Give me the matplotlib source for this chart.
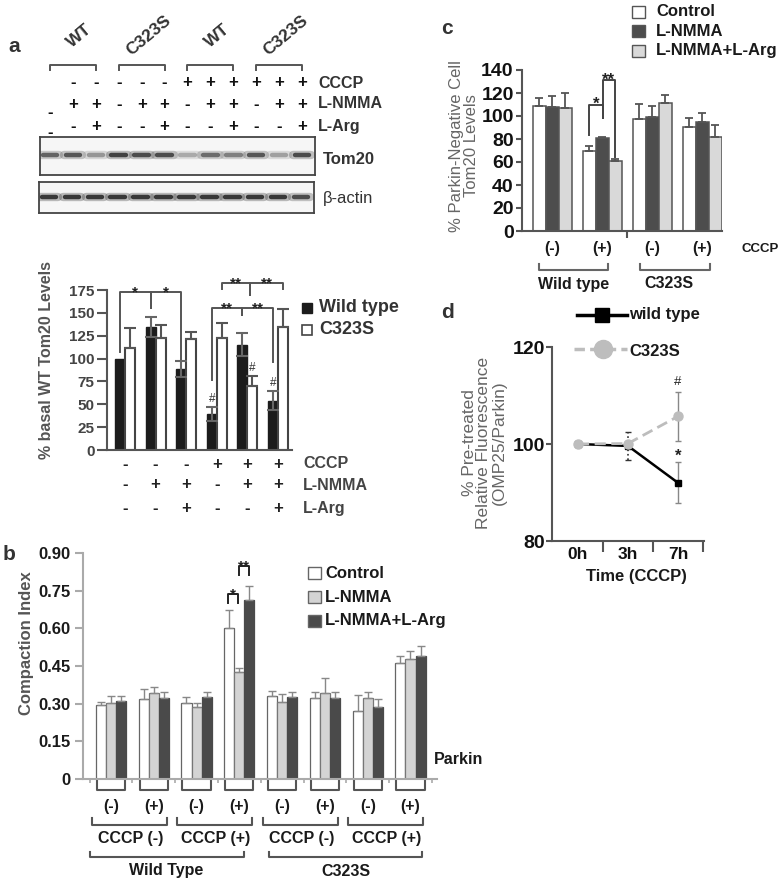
import matplotlib.pyplot as plt
from matplotlib.patches import Rectangle
from matplotlib.transforms import blended_transform_factory as blend

plt.rcParams['font.family'] = ['Liberation Sans', 'DejaVu Sans']
plt.rcParams['font.weight'] = 'bold'

W, H = 780, 884

# ---------------- data ----------------
# a: western blot (12 lanes)
blot_groups = ['WT', 'C323S', 'WT', 'C323S']
blot_cccp = ['', '-', '-', '-', '-', '-', '+', '+', '+', '+', '+', '+']
blot_nmma = ['-', '+', '+', '-', '+', '+', '-', '+', '+', '-', '+', '+']
blot_arg = ['-', '-', '+', '-', '-', '+', '-', '-', '+', '-', '-', '+']
tom20_band = [0.75, 0.8, 0.5, 0.9, 0.85, 0.85, 0.4, 0.7, 0.6, 0.8, 0.45, 0.85]
actin_band = [0.95, 0.95, 0.95, 0.95, 0.95, 0.95, 0.95, 0.95, 0.95, 0.95, 0.95, 0.85]

# a: quantification
a_wt = [100, 135, 88.6, 39.5, 115, 54]
a_wt_err = [0, 11, 9, 7.5, 12.5, 10]
a_mut = [112, 123, 121, 122, 70, 134]
a_mut_err = [21, 14, 8, 16.5, 11, 20]
a_cccp = ['-', '-', '-', '+', '+', '+']
a_nmma = ['-', '+', '+', '-', '+', '+']
a_arg = ['-', '-', '+', '-', '-', '+']

# b: compaction index
b_parkin = ['(-)', '(+)', '(-)', '(+)', '(-)', '(+)', '(-)', '(+)']
b_cccp = ['CCCP (-)', 'CCCP (+)', 'CCCP (-)', 'CCCP (+)']
b_geno = ['Wild Type', 'C323S']
b_ctrl = [0.295, 0.317, 0.304, 0.601, 0.331, 0.321, 0.271, 0.460]
b_ctrl_err = [0.013, 0.040, 0.024, 0.072, 0.019, 0.024, 0.063, 0.030]
b_nmma = [0.301, 0.341, 0.288, 0.426, 0.308, 0.344, 0.321, 0.476]
b_nmma_err = [0.031, 0.024, 0.016, 0.016, 0.029, 0.059, 0.024, 0.032]
b_arg = [0.312, 0.324, 0.328, 0.713, 0.325, 0.321, 0.285, 0.490]
b_arg_err = [0.020, 0.024, 0.020, 0.056, 0.020, 0.027, 0.032, 0.038]

# c: parkin-negative cells
c_cccp = ['(-)', '(+)', '(-)', '(+)']
c_ctrl = [109, 70, 97, 90.5]
c_ctrl_err = [6.5, 3.5, 13.5, 8]
c_nmma = [108, 81, 99, 95]
c_nmma_err = [9, 1, 10, 7.5]
c_arg = [107, 61, 111, 82]
c_arg_err = [13, 2, 7, 10.5]

# d: time course
d_time = ['0h', '3h', '7h']
d_wt = [100, 99.6, 92.0]
d_wt_err = [0, 2.9, 4.2]
d_mut = [100, 100.1, 105.7]
d_mut_err = [0, 0, 5]

# ---------------- figure ----------------
fig = plt.figure(figsize=(W / 100, H / 100), dpi=100)
canvas = fig.add_axes([0, 0, 1, 1])
canvas.set_xlim(0, W)
canvas.set_ylim(H, 0)
canvas.axis('off')


def box(x0, y0, x1, y1):
    ax = fig.add_axes([x0 / W, 1 - y1 / H, (x1 - x0) / W, (y1 - y0) / H])
    ax.set_facecolor('none')
    return ax


def txt(x, y, s, size=11, color='#333333', ha='left', va='center', tr=None, **kw):
    canvas.text(x, y, s, fontsize=size, color=color, ha=ha, va=va,
                transform=tr if tr is not None else canvas.transData, **kw)


def ubracket(tr, x0, x1, y_top, y_bot, color='#555555', lw=1.5):
    canvas.plot([x0, x0, x1, x1], [y_top, y_bot, y_bot, y_top], color=color,
                lw=lw, transform=tr, clip_on=False)


def sig(ax, x0, x1, top, l0, l1, label, color='#444444', size=11):
    ax.plot([x0, x0, x1, x1], [l0, top, top, l1], color=color, lw=1.4, clip_on=False)
    ax.annotate(label, ((x0 + x1) / 2, top), xytext=(0, -3), textcoords='offset points',
                ha='center', va='baseline', fontsize=size, color='#222222',
                annotation_clip=False)


def style(ax, color):
    ax.spines['top'].set_visible(False)
    ax.spines['right'].set_visible(False)
    for s in ['left', 'bottom']:
        ax.spines[s].set_color(color)
        ax.spines[s].set_linewidth(1.5)


# panel letters
for s, (x, y) in zip('abcd', [(14, 47), (9, 554), (447, 28), (447, 313)]):
    txt(x, y, s, size=15, color='#333333', ha='center')

# ---------------- a: blot ----------------
lanes = range(12)
ax_tom = box(40, 137, 315, 175)
ax_act = box(39, 182, 314, 213)
for ax, band, by in [(ax_tom, tom20_band, 0.53), (ax_act, actin_band, 0.52)]:
    ax.set_xlim(-0.44, 11.57)
    ax.set_ylim(0, 1)
    ax.set_facecolor('#f6f6f6')
    ax.set_xticks([])
    ax.set_yticks([])
    for s in ax.spines.values():
        s.set_color('#444444')
        s.set_linewidth(1.3)
    for i, v in zip(lanes, band):
        g = 1 - 0.88 * v
        ax.plot([i - 0.4, i + 0.4], [by, by], color=(g, g, g), lw=6, alpha=0.3,
                solid_capstyle='round')
        ax.plot([i - 0.32, i + 0.32], [by, by], color=(g, g, g), lw=3.2, alpha=0.9,
                solid_capstyle='round')

trb = blend(ax_tom.transData, canvas.transData)
row_y = [83, 104, 127]
lane0_y = [None, 113, 132]
for r, row in enumerate([blot_cccp, blot_nmma, blot_arg]):
    for i, s in zip(lanes, row):
        y = lane0_y[r] if i == 0 else row_y[r]
        if s:
            txt(i, y, s, size=12, color='#111111', ha='center', tr=trb)
for lab, y in zip(['CCCP', 'L-NMMA', 'L-Arg'], row_y):
    txt(318, y, lab, size=11.5, color='#333333')
txt(323, 160, 'Tom20', size=12, color='#333333')
txt(323, 199, 'β-actin', size=12, color='#333333', fontweight='normal')
for k, g in enumerate(blot_groups):
    canvas.plot([3 * k, 3 * k, 3 * k + 2, 3 * k + 2], [70, 65, 65, 70], color='#555555',
                lw=1.4, transform=trb, clip_on=False)
    txt(3 * k + 1.3, 36, g, size=12.5, color='#333333', ha='center', tr=trb, rotation=40)

# ---------------- a: bars ----------------
ax = box(107, 290, 292, 450)
x = list(range(6))
ax.bar([i - 0.165 for i in x], a_wt, 0.33, color='#1c1c1c', edgecolor='#1c1c1c', zorder=2)
ax.bar([i + 0.165 for i in x], a_mut, 0.33, color='white', edgecolor='#444444', lw=1.5, zorder=2)
ew = [i for i in x if a_wt_err[i] > 0]
ax.errorbar([i - 0.165 for i in ew], [a_wt[i] for i in ew], yerr=[a_wt_err[i] for i in ew],
            fmt='none', ecolor='#666666', elinewidth=1.5, capsize=4, capthick=1.5, zorder=3)
ax.errorbar([i + 0.165 for i in x], a_mut, yerr=[[0] * 6, a_mut_err], fmt='none',
            ecolor='#555555', elinewidth=1.5, capsize=4, capthick=1.5, zorder=3)
ax.set_xlim(-0.59, 5.46)
ax.set_ylim(0, 175)
ax.set_yticks(range(0, 176, 25))
ax.set_xticks([])
style(ax, '#555555')
ax.tick_params(axis='y', length=7, width=1.5, color='#555555', labelsize=11,
               labelcolor='#444444', pad=2)
for b in [(-0.165, 0.835, 172.8, 107, 155, '*'), (0.835, 1.835, 172.8, 155, 91, '*'),
          (2.835, 3.835, 155.3, 76.6, 147.7, '**'), (3.835, 4.835, 155.3, 147.7, 96, '**'),
          (3.165, 4.1, 182.7, 176, 169.5, '**'), (4.1, 5.165, 182.7, 169.5, 176, '**')]:
    sig(ax, *b, color='#555555')
for xi, yi in [(3 - 0.165, a_wt[3] + a_wt_err[3]), (4 + 0.165, a_mut[4] + a_mut_err[4]),
               (5 - 0.165, a_wt[5] + a_wt_err[5])]:
    ax.annotate('#', (xi, yi), xytext=(0, 6), textcoords='offset points', ha='center',
                va='center', fontsize=8.5, fontweight='normal', color='#333333')
tra = blend(ax.transData, canvas.transData)
for row, y in zip([a_cccp, a_nmma, a_arg], [464, 485, 508]):
    for i, s in zip(x, row):
        txt(i, y, s, size=12, color='#222222', ha='center', tr=tra)
for lab, y in zip(['CCCP', 'L-NMMA', 'L-Arg'], [464, 485, 508]):
    txt(303, y, lab, size=11.5, color='#444444')
txt(47, 360, '% basal WT Tom20 Levels', size=11.5, color='#555555', ha='center', rotation=90)
canvas.add_patch(Rectangle((302, 303), 10, 10, facecolor='#1c1c1c', edgecolor='#1c1c1c'))
canvas.add_patch(Rectangle((302, 325), 10, 10, facecolor='white', edgecolor='#444444', lw=1.2))
txt(319, 308, 'Wild type', size=13, color='#333333')
txt(319, 330, 'C323S', size=13, color='#333333')

# ---------------- b ----------------
ax = box(83, 553, 437, 779)
x = list(range(8))
w = 0.235
for off, vals, errs, fc, ec in [(-w, b_ctrl, b_ctrl_err, 'white', '#666666'),
                                (0, b_nmma, b_nmma_err, '#d4d4d4', '#777777'),
                                (w, b_arg, b_arg_err, '#4a4a4a', '#4a4a4a')]:
    xs = [i + off for i in x]
    ax.bar(xs, vals, w, color=fc, edgecolor=ec, lw=0.9, zorder=2)
    ax.errorbar(xs, vals, yerr=[[0] * 8, errs], fmt='none', ecolor='#888888',
                elinewidth=1, capsize=3, capthick=1, zorder=3)
ax.set_xlim(-0.654, 7.62)
ax.set_ylim(0, 0.9)
ax.set_yticks([0, 0.15, 0.30, 0.45, 0.60, 0.75, 0.90])
ax.set_yticklabels(['0', '0.15', '0.30', '0.45', '0.60', '0.75', '0.90'])
ax.set_xticks([i + 0.5 for i in range(-1, 8)])
ax.set_xticklabels([])
style(ax, '#aaaaaa')
ax.tick_params(axis='y', length=6, width=1.5, color='#aaaaaa', labelsize=12,
               labelcolor='#1a1a1a', pad=3)
ax.tick_params(axis='x', length=3, width=1.2, color='#aaaaaa')
sig(ax, 2.73, 2.97, 0.737, 0.70, 0.70, '*', color='#222222')
sig(ax, 2.99, 3.22, 0.849, 0.813, 0.813, '**', color='#222222')
trx = blend(ax.transData, canvas.transData)
for i, s in zip(x, b_parkin):
    ubracket(trx, i - 0.33, i + 0.33, 781, 790)
    txt(i, 806, s, size=11.5, color='#1a1a1a', ha='center', tr=trx)
for j, s in enumerate(b_cccp):
    ubracket(trx, 2 * j - 0.45, 2 * j + 1.3, 818, 825)
    txt(2 * j + 0.45, 838, s, size=11.5, color='#1a1a1a', ha='center', tr=trx)
for (x0, x1), s in zip([(-0.5, 3.1), (3.7, 7.27)], b_geno):
    ubracket(trx, x0, x1, 852, 857)
    txt((x0 + x1) / 2, 871, s, size=11.5, color='#1a1a1a', ha='center', tr=trx)
txt(434, 760, 'Parkin', size=11.5, color='#1a1a1a')
txt(27, 643, 'Compaction Index', size=12, color='#555555', ha='center', rotation=90)
for y, fc, lab in [(573, 'white', 'Control'), (597, '#d4d4d4', 'L-NMMA'),
                   (621, '#4a4a4a', 'L-NMMA+L-Arg')]:
    canvas.add_patch(Rectangle((308, y - 6), 13, 12, facecolor=fc, edgecolor='#666666', lw=1))
    txt(325, y, lab, size=12, color='#1a1a1a')

# ---------------- c ----------------
ax = box(522, 70, 722, 231)
x = list(range(4))
w = 0.26
for off, vals, errs, fc in [(-w, c_ctrl, c_ctrl_err, 'white'),
                            (0, c_nmma, c_nmma_err, '#4d4d4d'),
                            (w, c_arg, c_arg_err, '#d9d9d9')]:
    xs = [i + off for i in x]
    ax.bar(xs, vals, w, color=fc, edgecolor='#555555', lw=1.1, zorder=2)
    ax.errorbar(xs, vals, yerr=[[0] * 4, errs], fmt='none', ecolor='#555555',
                elinewidth=1.3, capsize=3, capthick=1.3, zorder=3)
ax.set_xlim(-0.6, 3.4)
ax.set_ylim(0, 140)
ax.set_yticks(range(0, 141, 20))
ax.set_xticks([1.5])
ax.set_xticklabels([])
style(ax, '#555555')
ax.tick_params(axis='y', length=4, width=1.5, color='#555555', labelsize=14,
               labelcolor='#111111', pad=2)
ax.tick_params(axis='x', length=5, width=1.5, color='#555555')
sig(ax, 0.74, 1.01, 109.5, 83.6, 98.5, '*', color='#444444', size=12)
sig(ax, 1.01, 1.26, 131, 98.5, 64.2, '**', color='#444444', size=12)
trc = blend(ax.transData, canvas.transData)
for i, s in zip(x, c_cccp):
    txt(i, 249, s, size=11.5, color='#1a1a1a', ha='center', tr=trc)
txt(741, 249, 'CCCP', size=9.5, color='#1a1a1a')
for (x0, x1), s, xc in [((-0.26, 1.12), 'Wild type', 0.44), ((1.76, 3.16), 'C323S', 2.34)]:
    ubracket(trc, x0, x1, 264, 270, color='#666666')
    txt(xc, 284, s, size=11.5, color='#1a1a1a', ha='center', tr=trc)
txt(464, 146, '% Parkin-Negative Cell\nTom20 Levels', size=12, color='#666666',
    ha='center', rotation=90, linespacing=0.95, fontweight='normal')
for y, fc, lab in [(12, 'white', 'Control'), (31, '#4d4d4d', 'L-NMMA'),
                   (51, '#d9d9d9', 'L-NMMA+L-Arg')]:
    canvas.add_patch(Rectangle((632, y - 6), 13, 12, facecolor=fc, edgecolor='#555555', lw=1))
    txt(656, y, lab, size=12, color='#1a1a1a')

# ---------------- d ----------------
ax = box(552, 347, 704, 541)
x = list(range(3))
ax.plot(x, d_wt, color='black', lw=1.8, marker='s', ms=5, zorder=3)
ax.plot(x, d_mut, color='#bdbdbd', lw=2, ls=(0, (4, 2)), marker='o', ms=6.5, zorder=4)
eb = ax.errorbar([1], [d_wt[1]], yerr=[d_wt_err[1]], fmt='none', ecolor='#333333',
                 elinewidth=1.2, capsize=2, zorder=2)
eb.lines[2][0].set_linestyle(':')
ax.errorbar([2], [d_wt[2]], yerr=[d_wt_err[2]], fmt='none', ecolor='#888888',
            elinewidth=1, capsize=2, zorder=2)
ax.errorbar([2], [d_mut[2]], yerr=[d_mut_err[2]], fmt='none', ecolor='#888888',
            elinewidth=1, capsize=2, zorder=2)
ax.annotate('#', (2, d_mut[2] + d_mut_err[2]), xytext=(0, 7), textcoords='offset points',
            ha='center', va='center', fontsize=9.5, fontweight='normal', color='#222222')
ax.annotate('*', (2, d_wt[2] + d_wt_err[2]), xytext=(0, 1), textcoords='offset points',
            ha='center', va='baseline', fontsize=12, color='#222222')
ax.set_xlim(-0.52, 2.52)
ax.set_ylim(80, 120)
ax.set_yticks([80, 100, 120])
ax.set_xticks([0.5, 1.5, 2.5])
ax.set_xticklabels([])
ax.set_xticks(x, minor=True)
ax.set_xticklabels(d_time, minor=True)
style(ax, '#555555')
ax.tick_params(axis='y', length=4, width=1.5, color='#555555', labelsize=14,
               labelcolor='#111111', pad=1)
ax.tick_params(axis='x', which='major', length=8, width=1.5, color='#555555')
ax.tick_params(axis='x', which='minor', length=0, labelsize=12.5, labelcolor='#111111', pad=4)
txt(636, 577, 'Time (CCCP)', size=12, color='#1a1a1a', ha='center')
txt(484, 443, '% Pre-treated\nRelative Fluorescence\n(OMP25/Parkin)', size=12.5,
    color='#666666', ha='center', rotation=90, linespacing=1.0, fontweight='normal')
canvas.plot([577, 627], [315, 315], color='black', lw=2.5)
canvas.plot([602], [315], marker='s', ms=10, color='black')
canvas.plot([574, 627], [349, 349], color='#bdbdbd', lw=2.5, ls=(0, (3, 1.5)))
canvas.plot([603], [349], marker='o', ms=13, color='#bdbdbd')
txt(629, 315, 'wild type', size=12, color='#1a1a1a')
txt(629, 351, 'C323S', size=12, color='#1a1a1a')

fig.savefig('out.png', dpi=100)
